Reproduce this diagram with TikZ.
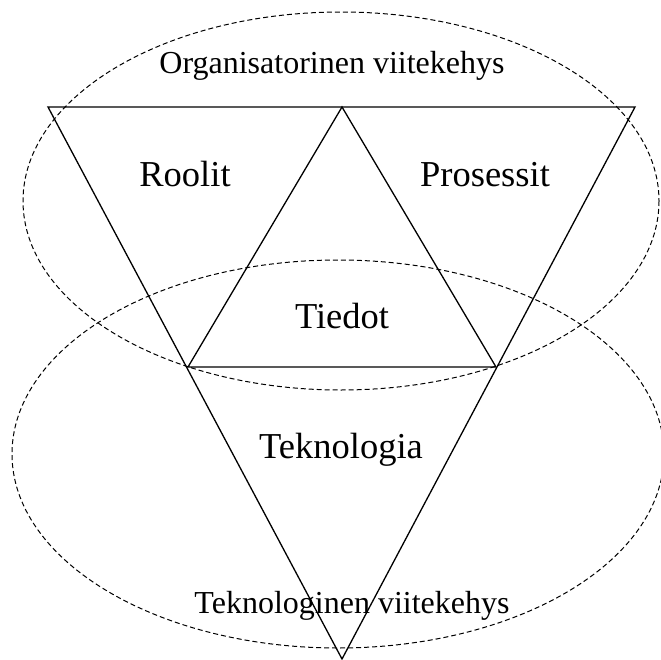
\documentclass[tikz,border=0pt]{standalone}
\usepackage{fontspec}
\setmainfont{Liberation Serif}
\usepackage{tikz}
\tikzstyle{area}=[font=\fontsize{36.5}{40}\selectfont,anchor=base,inner sep=0pt]
\tikzstyle{frametext}=[font=\fontsize{32}{35}\selectfont,anchor=base,inner sep=0pt]
\tikzstyle{frame}=[draw,dash pattern=on 5pt off 3pt,line width=1pt]

\begin{document}
\begin{tikzpicture}[x=1pt,y=-1pt,line width=1.3pt]
    \useasboundingbox (0,0) rectangle (660,660);
    % corners of the big triangle
    \coordinate (ul) at (48,107);
    \coordinate (ur) at (635,107);
    \coordinate (bottom) at (342,659);
    % corners of the small triangle
    \coordinate (top) at (342,107);
    \coordinate (il) at (188,367);
    \coordinate (ir) at (496,367);
    % centres of the two frames
    \coordinate (org) at (341,201);
    \coordinate (tek) at (338,454);

    \draw (ul) -- (ur) -- (bottom) -- cycle;
    \draw (top) -- (il) -- (ir) -- cycle;
    \draw [frame] (org) ellipse (318 and 189);
    \draw [frame] (tek) ellipse (326 and 194);

    \node [frametext] (orgtext) at (332,74) {Organisatorinen viitekehys};
    \node [area] (roolit) at (185,187) {Roolit};
    \node [area] (prosessit) at (485,187) {Prosessit};
    \node [area] (tiedot) at (342,328) {Tiedot};
    \node [area] (teknologia) at (341,458) {Teknologia};
    \node [frametext] (tektext) at (352,613) {Teknologinen viitekehys};
\end{tikzpicture}
\end{document}
